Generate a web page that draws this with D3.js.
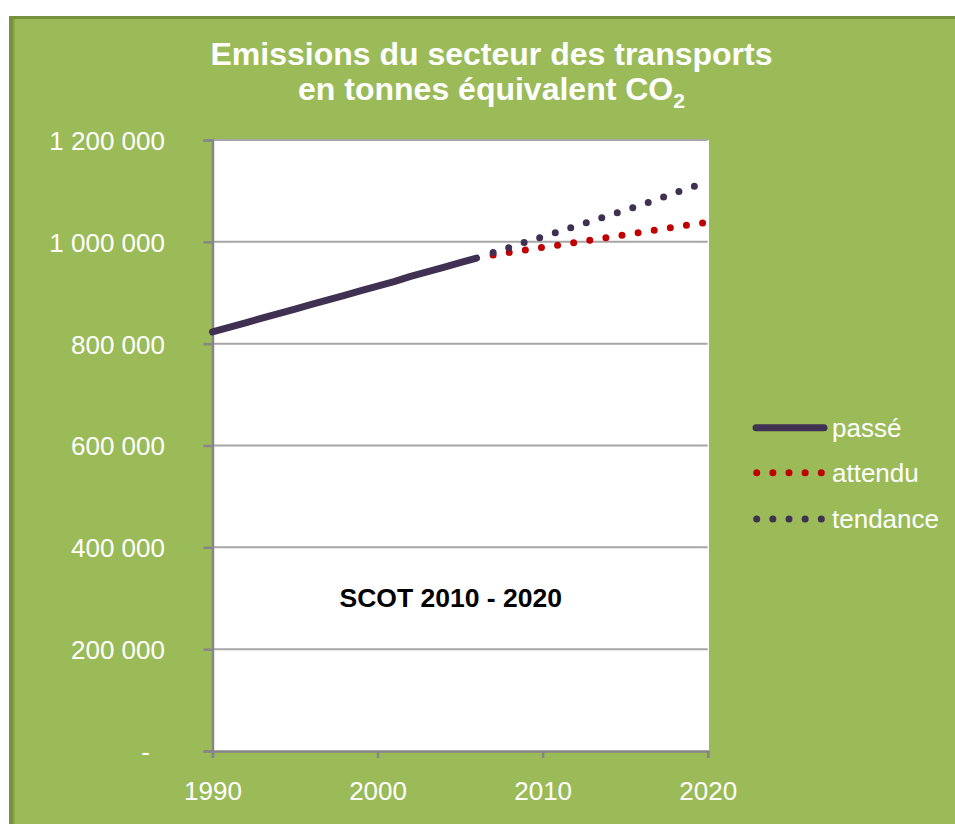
<!DOCTYPE html>
<html>
<head>
<meta charset="utf-8">
<script src="https://cdn.jsdelivr.net/npm/d3@7"></script>
<style>
  html, body { margin: 0; padding: 0; background: #ffffff; }
  svg { display: block; }
  text { font-family: "Liberation Sans", Arial, sans-serif; }
</style>
</head>
<body>
<svg id="chart" width="955" height="824"></svg>
<script>
// ---- Data ----
const pastYears = [1990,1991,1992,1993,1994,1995,1996,1997,1998,1999,2000,2001,2002,2003,2004,2005,2006];
const pastValues = [823000,832000,841000,850000,859000,868000,877000,886000,895000,904000,913000,922000,932000,941000,950000,959000,968000];
const futureYears = [2007,2008,2009,2010,2011,2012,2013,2014,2015,2016,2017,2018,2019,2020];
const attenduValues = [974000,979000,984000,989000,994000,999000,1004000,1009000,1014000,1019000,1024000,1029000,1034000,1038000];
const tendanceValues = [979000,989000,1000000,1010000,1020000,1031000,1041000,1052000,1062000,1073000,1084000,1096000,1107000,1118000];
const yTickValues = [0,200000,400000,600000,800000,1000000,1200000];
const yTickLabels = ["-","200 000","400 000","600 000","800 000","1 000 000","1 200 000"];
const xTickValues = [1990,2000,2010,2020];
const seriesNames = ["passé","attendu","tendance"];
const titleLines = ["Emissions du secteur des transports","en tonnes équivalent CO"];
const annotation = "SCOT 2010 - 2020";

// ---- Styles ----
const GREEN = "#9bbb59", GREEN_DARK = "#76923c";
const PURPLE = "#403152", RED = "#c00000";
const AXIS = "#868686", GRID = "#a6a6a6";

const svg = d3.select("#chart");

// background panel
svg.append("rect").attr("x", 9).attr("y", 16).attr("width", 946).attr("height", 808).attr("fill", GREEN_DARK);
svg.append("rect").attr("x", 13).attr("y", 19).attr("width", 942).attr("height", 805).attr("fill", "#89a84a");
svg.append("rect").attr("x", 15).attr("y", 19).attr("width", 940).attr("height", 805).attr("fill", GREEN);

// scales
const x = d3.scaleLinear().domain([1990, 2020]).range([212.5, 707.7]);
const y = d3.scaleLinear().domain([0, 1200000]).range([751, 140]);

// plot area
svg.append("rect").attr("x", x(1990)).attr("y", y(1200000))
  .attr("width", 709 - x(1990)).attr("height", y(0) - y(1200000)).attr("fill", "#ffffff");

// gridlines
svg.append("g").selectAll("line").data(yTickValues.filter(v => v > 0)).join("line")
  .attr("x1", x(1990)).attr("x2", x(2020))
  .attr("y1", d => y(d)).attr("y2", d => y(d))
  .attr("stroke", GRID).attr("stroke-width", 2);

// left axis
const yAxis = d3.axisLeft(y).tickValues(yTickValues).tickSize(9).tickPadding(38.5)
  .tickFormat((d, i) => yTickLabels[i]);
const gy = svg.append("g").attr("transform", `translate(${x(1990)},0)`).call(yAxis);
gy.select(".domain").attr("stroke", AXIS).attr("stroke-width", 2.5);
gy.selectAll(".tick line").attr("stroke", AXIS).attr("stroke-width", 2.5);
gy.selectAll(".tick text").attr("fill", "#ffffff").attr("font-size", 26)
  .attr("font-family", "Liberation Sans, Arial, sans-serif").attr("dy", "0.36em")
  .attr("dx", d => d === 0 ? -15 : 0);

// bottom axis
const xAxis = d3.axisBottom(x).tickValues(xTickValues).tickSize(7).tickPadding(23.5).tickFormat(d3.format("d"));
const gx = svg.append("g").attr("transform", `translate(0,${y(0)})`).call(xAxis);
gx.select(".domain").attr("stroke", AXIS).attr("stroke-width", 2.5);
gx.selectAll(".tick line").attr("stroke", AXIS).attr("stroke-width", 2.5);
gx.selectAll(".tick text").attr("fill", "#ffffff").attr("font-size", 26)
  .attr("font-family", "Liberation Sans, Arial, sans-serif");

// lines
const line = d3.line().x(d => x(d[0])).y(d => y(d[1]));
svg.append("path").datum(pastYears.map((yr, i) => [yr, pastValues[i]]))
  .attr("d", line).attr("fill", "none").attr("stroke", PURPLE)
  .attr("stroke-width", 7).attr("stroke-linecap", "round").attr("stroke-linejoin", "round");
svg.append("path").datum(futureYears.map((yr, i) => [yr, attenduValues[i]]))
  .attr("d", line).attr("fill", "none").attr("stroke", RED)
  .attr("stroke-width", 7).attr("stroke-linecap", "round").attr("stroke-dasharray", "0,16.3");
svg.append("path").datum(futureYears.map((yr, i) => [yr, tendanceValues[i]]))
  .attr("d", line).attr("fill", "none").attr("stroke", PURPLE)
  .attr("stroke-width", 7).attr("stroke-linecap", "round").attr("stroke-dasharray", "0,16.3");

// title
const title = svg.append("g").attr("fill", "#ffffff").attr("font-weight", "bold").attr("text-anchor", "middle");
title.append("text").attr("x", 491.5).attr("y", 65).attr("font-size", 32).text(titleLines[0]);
const t2 = title.append("text").attr("x", 491.5).attr("y", 100).attr("font-size", 32);
t2.append("tspan").text(titleLines[1]);
t2.append("tspan").attr("font-size", 21).attr("dy", 8).text("2");

// annotation
svg.append("text").attr("x", 450.7).attr("y", 606.5).attr("text-anchor", "middle")
  .attr("font-size", 26.5).attr("font-weight", "bold").attr("fill", "#000000").text(annotation);

// legend
const legend = svg.append("g");
const legY = [427.7, 472.7, 519];
legend.append("line").attr("x1", 756).attr("x2", 824).attr("y1", legY[0]).attr("y2", legY[0])
  .attr("stroke", PURPLE).attr("stroke-width", 7).attr("stroke-linecap", "round");
legend.append("line").attr("x1", 756.7).attr("x2", 825).attr("y1", legY[1]).attr("y2", legY[1])
  .attr("stroke", RED).attr("stroke-width", 7).attr("stroke-linecap", "round").attr("stroke-dasharray", "0,16.15");
legend.append("line").attr("x1", 756.7).attr("x2", 825).attr("y1", legY[2]).attr("y2", legY[2])
  .attr("stroke", PURPLE).attr("stroke-width", 7).attr("stroke-linecap", "round").attr("stroke-dasharray", "0,16.15");
legend.selectAll("text").data(seriesNames).join("text")
  .attr("x", 832).attr("y", (d, i) => legY[i] + 9)
  .attr("font-size", 26).attr("fill", "#ffffff").text(d => d);
</script>
</body>
</html>
